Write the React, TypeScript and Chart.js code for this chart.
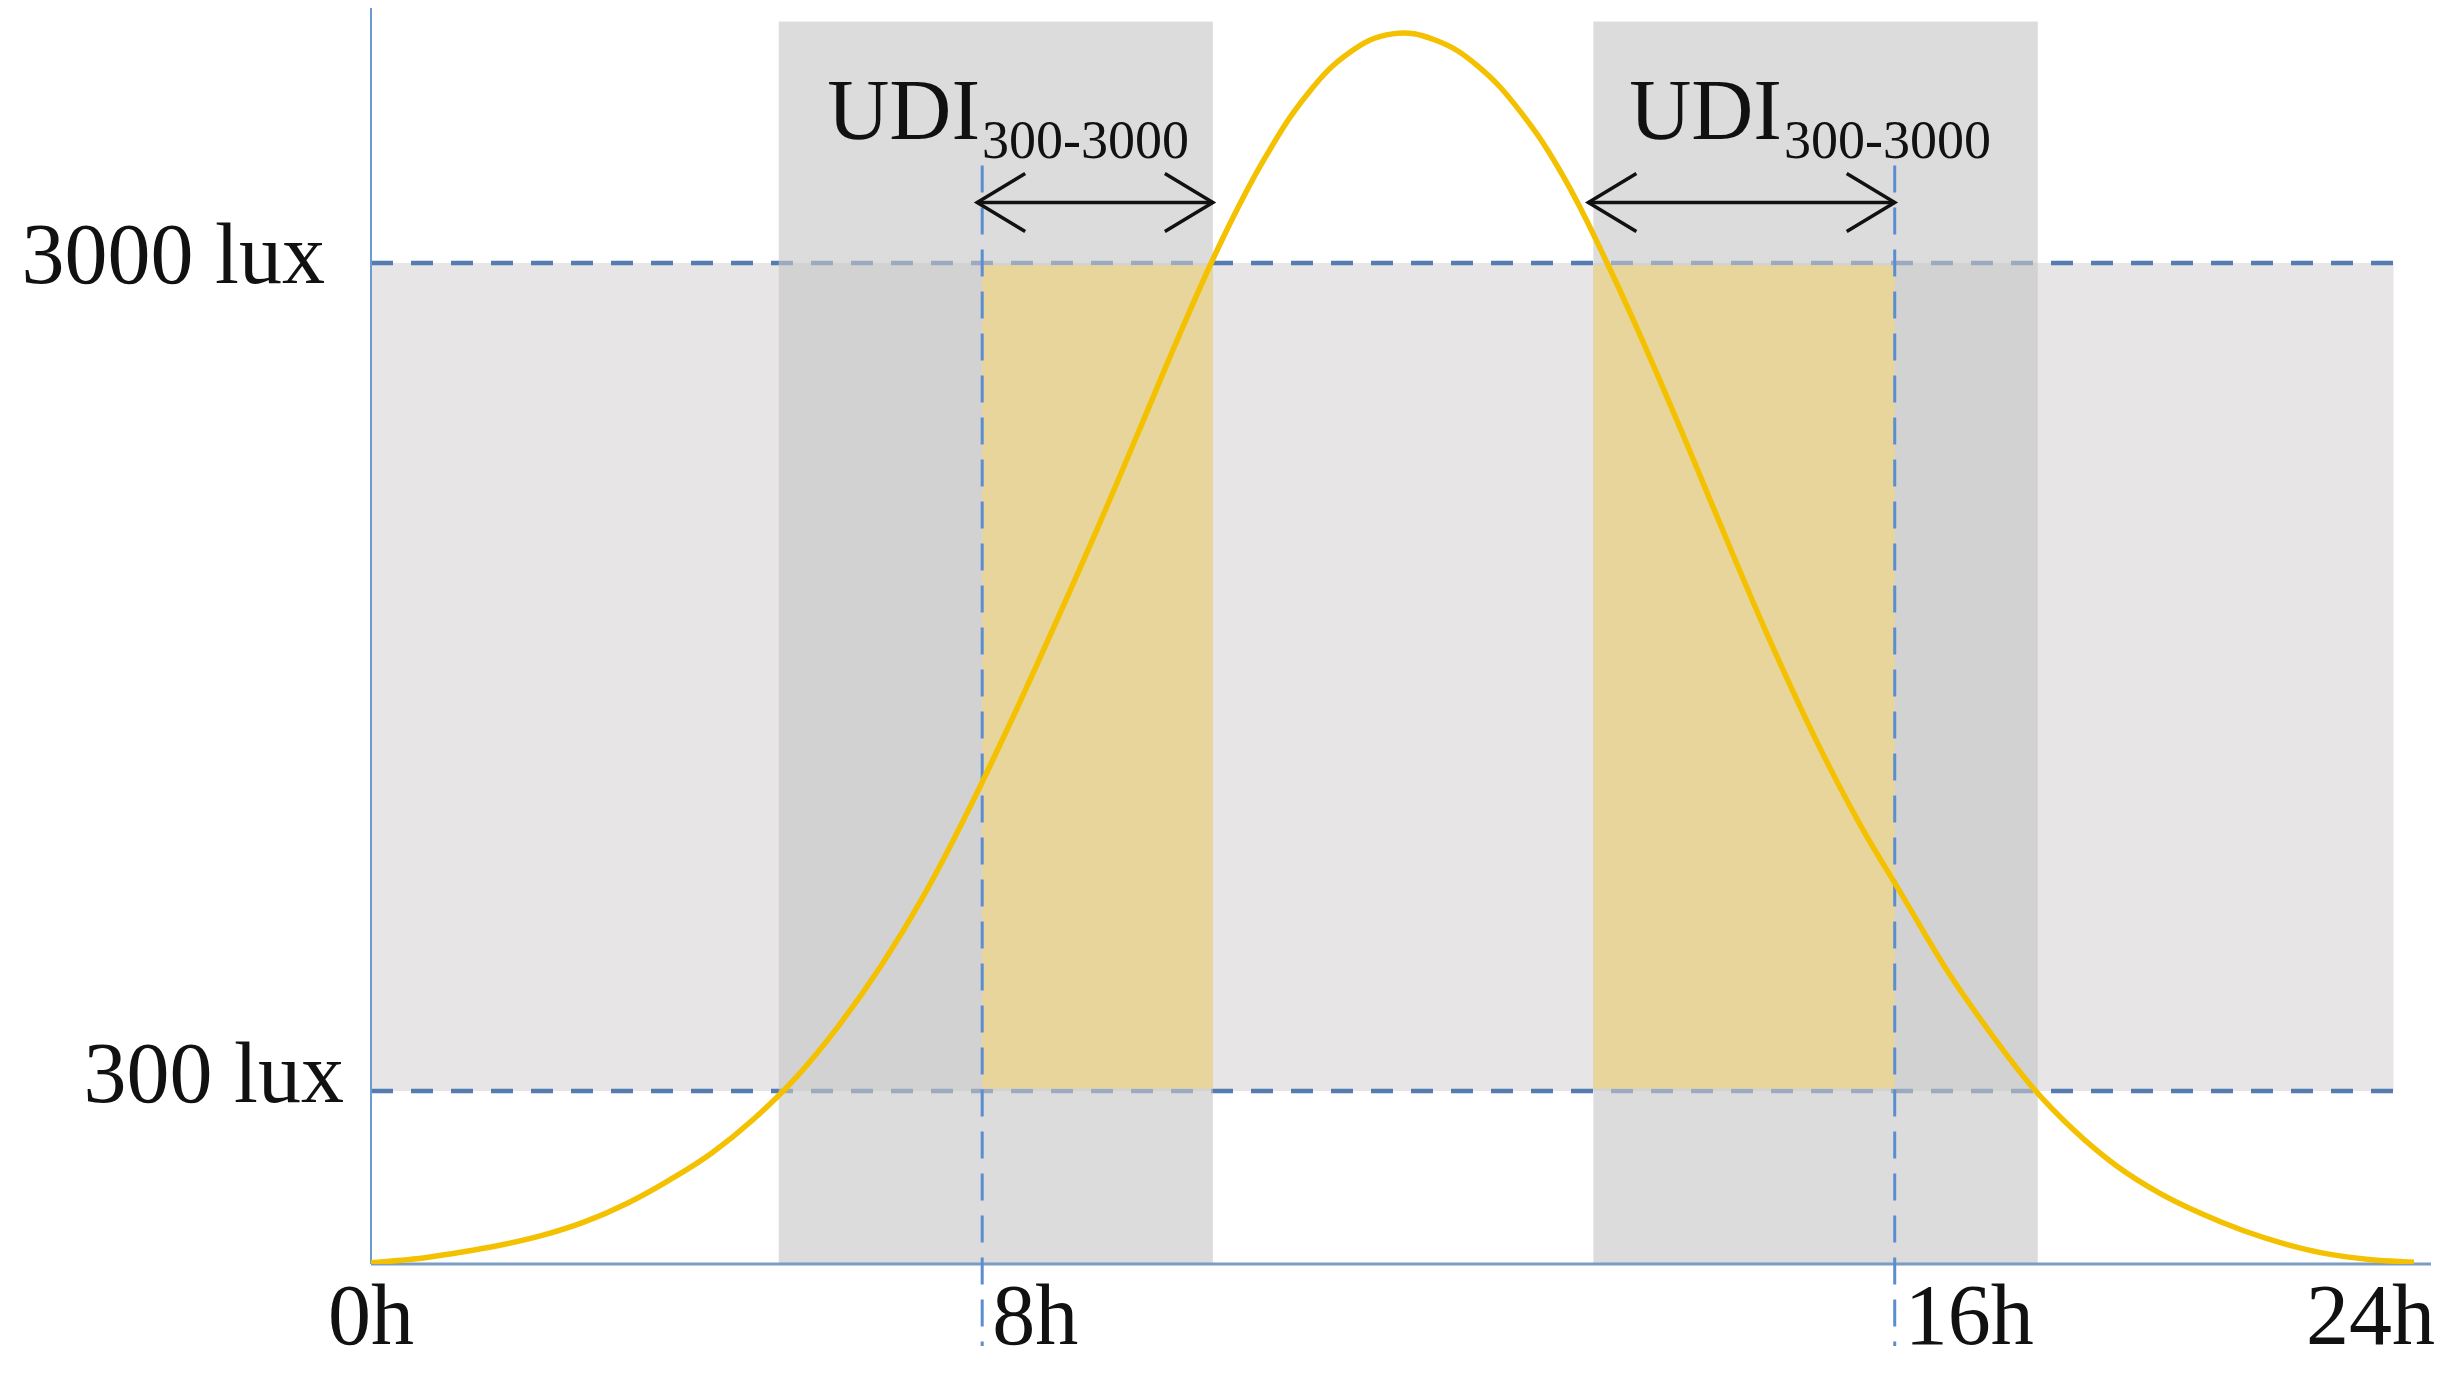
import React, { useEffect, useRef } from 'react';
import { Chart, registerables } from 'chart.js';

Chart.register(...registerables);

// Schematic daylight curve, every half unit of the schematic hour axis
// (relative illuminance, 0 = baseline, 100 = midday peak)
const curveHours = [
  0, 0.5, 1, 1.5, 2, 2.5, 3, 3.5, 4, 4.5, 5, 5.5, 6, 6.5, 7, 7.5, 8, 8.5, 9, 9.5, 10, 10.5, 11, 11.5, 12,
  12.5, 13, 13.5, 14, 14.5, 15, 15.5, 16, 16.5, 17, 17.5, 18, 18.5, 19, 19.5, 20, 20.5, 21, 21.5, 22, 22.5, 23, 23.5, 24,
];
const curveIlluminance = [
  0.1, 0.4, 0.9, 1.5, 2.3, 3.4, 4.9, 6.8, 9.0, 11.8, 15.2, 19.4, 24.3, 30.0, 36.6, 43.8, 51.4, 59.2, 67.3, 75.5, 83.2, 89.8, 95.0, 98.4, 99.9,
  99.4, 97.3, 93.6, 88.4, 81.6, 74.0, 65.9, 57.6, 49.6, 42.2, 35.6, 29.8, 24.0, 19.0, 14.5, 10.9, 8.0, 5.8, 4.1, 2.7, 1.6, 0.8, 0.35, 0.15,
];

// Threshold levels (same relative scale) and their labels
const thresholdLevels = [14.05, 81.3];
const thresholdLabels = ['300 lux', '3000 lux'];
const thresholdBandEnd = 23.76;

// Hour markers on the x axis
const markerHours = [0, 7.18, 17.9, 24];
const markerLabels = ['0h', '8h', '16h', '24h'];

// Grey periods and the UDI 300-3000 parts
const greyBands = [[4.79, 9.89], [14.36, 19.58]];
const greyBandTop = 100.9;
const udiRanges = [[7.18, 9.89], [14.36, 17.9]];
const udiLabelHours = [5.36, 14.78];
const udiLabelLevel = 91.4;
const udiArrowLevel = 86.2;
const markerLineTop = 89.2;
const udiMain = 'UDI';
const udiSub = '300-3000';

const xMax = 24.2;
const yMax = 102;

const SERIF = '"Liberation Serif", "Times New Roman", serif';

const overlayPlugin = {
  id: 'udiOverlay',
  beforeDatasetsDraw(chart: any) {
    const { ctx } = chart;
    const xs = chart.scales.x;
    const ys = chart.scales.y;
    const px = (v: number) => xs.getPixelForValue(v);
    const py = (v: number) => ys.getPixelForValue(v);
    const lo = py(thresholdLevels[0]);
    const hi = py(thresholdLevels[1]);
    const x0 = px(0);
    const base = py(0);
    ctx.save();
    // horizontal band between thresholds
    ctx.fillStyle = '#E7E5E6';
    ctx.fillRect(x0, hi, px(thresholdBandEnd) - x0, lo - hi);
    // dashed threshold lines
    ctx.setLineDash([22, 18]);
    ctx.lineWidth = 4.5;
    ctx.strokeStyle = '#557CB0';
    thresholdLevels.forEach((l) => {
      ctx.beginPath();
      ctx.moveTo(x0, py(l));
      ctx.lineTo(px(thresholdBandEnd) + 6, py(l));
      ctx.stroke();
    });
    ctx.setLineDash([]);
    // grey vertical bands
    ctx.fillStyle = 'rgba(199,199,199,0.62)';
    greyBands.forEach(([a, b]) => {
      ctx.fillRect(px(a), py(greyBandTop), px(b) - px(a), base - py(greyBandTop));
    });
    // UDI tan parts
    ctx.fillStyle = '#E8D59C';
    udiRanges.forEach(([a, b]) => {
      ctx.fillRect(px(a), hi + 2.5, px(b) - px(a), lo - hi - 5);
    });
    // axis lines
    ctx.strokeStyle = '#6C9BD2';
    ctx.lineWidth = 2;
    ctx.beginPath();
    ctx.moveTo(x0, chart.chartArea.top);
    ctx.lineTo(x0, base);
    ctx.stroke();
    ctx.strokeStyle = '#7B9CC4';
    ctx.lineWidth = 3;
    ctx.beginPath();
    ctx.moveTo(x0, base);
    ctx.lineTo(chart.chartArea.right, base);
    ctx.stroke();
    // vertical marker dashed lines (8h, 16h)
    ctx.setLineDash([27, 15]);
    ctx.lineWidth = 3;
    ctx.strokeStyle = '#5B8ED0';
    markerHours.slice(1, -1).forEach((h) => {
      ctx.beginPath();
      ctx.moveTo(px(h), py(markerLineTop));
      ctx.lineTo(px(h), base + 82);
      ctx.stroke();
    });
    ctx.restore();
  },
  afterDatasetsDraw(chart: any) {
    const { ctx } = chart;
    const xs = chart.scales.x;
    const ys = chart.scales.y;
    const px = (v: number) => xs.getPixelForValue(v);
    const py = (v: number) => ys.getPixelForValue(v);
    const base = py(0);
    const x0 = px(0);
    ctx.save();
    // arrows
    ctx.strokeStyle = '#111';
    ctx.lineWidth = 3.5;
    ctx.setLineDash([]);
    const ay = py(udiArrowLevel);
    udiRanges.forEach(([a, b]) => {
      const xa = px(a) - 5;
      const xb = px(b);
      ctx.beginPath();
      ctx.moveTo(xa, ay);
      ctx.lineTo(xb, ay);
      ctx.stroke();
      ctx.beginPath();
      ctx.moveTo(xa + 48, ay - 29);
      ctx.lineTo(xa, ay);
      ctx.lineTo(xa + 48, ay + 29);
      ctx.stroke();
      ctx.beginPath();
      ctx.moveTo(xb - 48, ay - 29);
      ctx.lineTo(xb, ay);
      ctx.lineTo(xb - 48, ay + 29);
      ctx.stroke();
    });
    // UDI labels
    ctx.fillStyle = '#111';
    ctx.textBaseline = 'alphabetic';
    ctx.textAlign = 'left';
    udiLabelHours.forEach((h) => {
      const lx = px(h);
      const ly = py(udiLabelLevel);
      ctx.font = `86px ${SERIF}`;
      ctx.fillText(udiMain, lx, ly);
      const w = ctx.measureText(udiMain).width;
      ctx.font = `54px ${SERIF}`;
      ctx.fillText(udiSub, lx + w + 2, ly + 19);
    });
    // y labels
    ctx.font = `86px ${SERIF}`;
    ctx.textAlign = 'right';
    const yRight = [27, 46];
    const yBase = [11, 20];
    thresholdLevels.forEach((l, i) => {
      ctx.fillText(thresholdLabels[i], x0 - yRight[i], py(l) + yBase[i]);
    });
    // x labels
    markerHours.forEach((h, i) => {
      const hx = px(h);
      if (i === 0) {
        ctx.textAlign = 'center';
        ctx.fillText(markerLabels[i], hx, base + 80);
      } else if (i === markerHours.length - 1) {
        ctx.textAlign = 'right';
        ctx.fillText(markerLabels[i], hx + 21, base + 80);
      } else {
        ctx.textAlign = 'left';
        ctx.fillText(markerLabels[i], hx + 10, base + 80);
      }
    });
    ctx.restore();
  },
};

export default function App() {
  const canvasRef = useRef<HTMLCanvasElement | null>(null);

  useEffect(() => {
    const canvas = canvasRef.current;
    if (!canvas) return;
    const points = curveHours.map((h, i) => ({ x: h, y: curveIlluminance[i] }));
    const chart = new Chart(canvas, {
      type: 'line',
      data: {
        datasets: [
          {
            label: 'Illuminance',
            data: points,
            borderColor: '#F4C100',
            borderWidth: 5.5,
            pointRadius: 0,
            fill: false,
            tension: 0.4,
          },
        ],
      },
      options: {
        responsive: false,
        animation: false,
        devicePixelRatio: 1,
        events: [],
        layout: { padding: { left: 371, right: 33, top: 8, bottom: 111 } },
        plugins: { legend: { display: false }, tooltip: { enabled: false } },
        scales: {
          x: { type: 'linear', min: 0, max: xMax, display: false },
          y: { type: 'linear', min: 0, max: yMax, display: false },
        },
      },
      plugins: [overlayPlugin],
    });
    return () => chart.destroy();
  }, []);

  return (
    <div style={{ position: 'fixed', left: 0, top: 0, width: 2464, height: 1375, background: '#fff' }}>
      <canvas ref={canvasRef} width={2464} height={1375} style={{ display: 'block' }} />
    </div>
  );
}
